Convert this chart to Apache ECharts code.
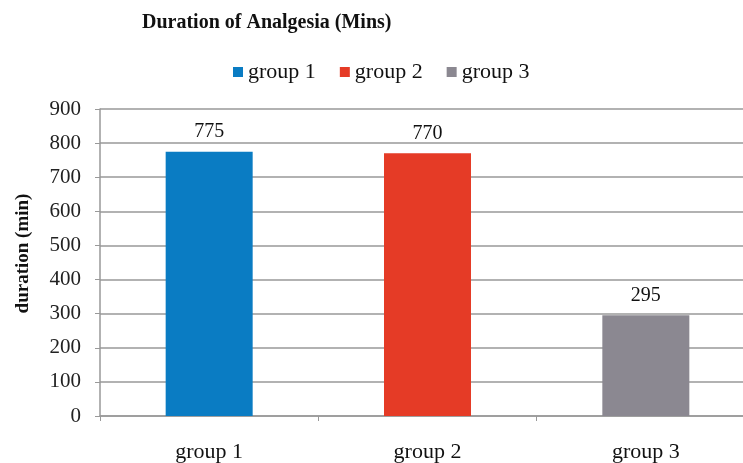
<!DOCTYPE html>
<html><head><meta charset="utf-8">
<script src="https://cdn.jsdelivr.net/npm/echarts@6/dist/echarts.min.js"></script>
<style>html,body{margin:0;padding:0;background:#fff;overflow:hidden;width:743px;height:463px}#c{width:755px;height:463px}</style>
</head><body><div id="c"></div>
<script>
const categories = ['group 1', 'group 2', 'group 3'];
const seriesNames = ['group 1', 'group 2', 'group 3'];
const values = [775, 770, 295];
const colors = ['#0A7CC3', '#E53B26', '#8B8891'];
const yTicks = {min: 0, max: 900, interval: 100};

const font = "'Liberation Serif', 'DejaVu Serif', serif";
const chart = echarts.init(document.getElementById('c'));
const series = seriesNames.map((n, i) => ({
  name: n, type: 'bar', stack: 's', barWidth: 87,
  data: categories.map((c, j) => j === i ? values[i] : '-'),
  itemStyle: {color: colors[i]},
  label: {show: true, position: 'top', distance: 10, color: '#111', fontFamily: font, fontSize: 20}
}));
chart.setOption({
  animation: false,
  title: {text: 'Duration of Analgesia (Mins)', left: 137, top: 8,
    textStyle: {fontFamily: font, fontWeight: 'bold', fontSize: 20, color: '#111'}},
  legend: {data: seriesNames, left: 228, top: 56, itemWidth: 10, itemHeight: 10, itemGap: 24,
    icon: 'rect', textStyle: {fontFamily: font, fontSize: 22, color: '#111'}},
  grid: {left: 100, top: 109, width: 655, height: 307, containLabel: false, outerBoundsMode: 'none'},
  xAxis: {type: 'category', data: categories,
    axisLine: {lineStyle: {color: '#999', width: 1.5}},
    axisTick: {show: true, length: 5, lineStyle: {color: '#999'}},
    axisLabel: {fontFamily: font, fontSize: 22, color: '#111', margin: 25}},
  yAxis: {type: 'value', min: yTicks.min, max: yTicks.max, interval: yTicks.interval,
    name: 'duration (min)', nameLocation: 'middle', nameGap: 67,
    nameTextStyle: {fontFamily: font, fontWeight: 'bold', fontSize: 19, color: '#111', padding: [0, 0, 0, 18]},
    axisLine: {show: true, lineStyle: {color: '#999', width: 1.5}},
    axisTick: {show: true, length: 5, lineStyle: {color: '#999'}},
    splitLine: {lineStyle: {color: '#999', width: 1.5}},
    axisLabel: {fontFamily: font, fontSize: 21, color: '#222', margin: 19}},
  series: series
});
</script></body></html>
